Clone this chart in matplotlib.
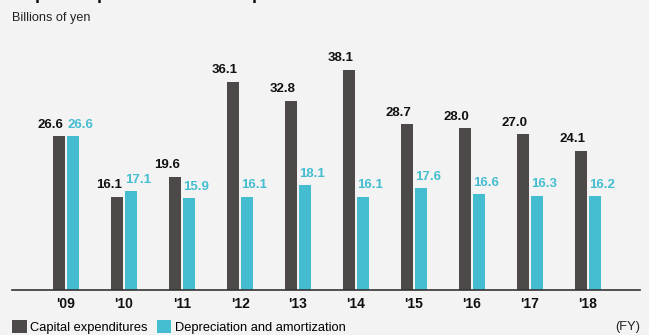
import matplotlib.pyplot as plt
import numpy as np

plt.rcParams['font.family'] = ['Liberation Sans', 'DejaVu Sans']

years = ["'09", "'10", "'11", "'12", "'13", "'14", "'15", "'16", "'17", "'18"]
capex = [26.6, 16.1, 19.6, 36.1, 32.8, 38.1, 28.7, 28.0, 27.0, 24.1]
depreciation = [26.6, 17.1, 15.9, 16.1, 18.1, 16.1, 17.6, 16.6, 16.3, 16.2]

DARK = '#4d4948'
CYAN = '#45bdd0'
BG = '#f3f3f3'

fig = plt.figure(figsize=(6.49, 3.35), dpi=100, facecolor=BG)
ax = fig.add_axes([12 / 649, 45 / 335, 628 / 649, 231 / 335], facecolor=BG)

x = np.arange(len(years))
w = 12 / 58
off = 7 / 58
ax.bar(x - off, capex, w, color=DARK, label='Capital expenditures')
ax.bar(x + off, depreciation, w, color=CYAN, label='Depreciation and amortization')

for i in range(len(years)):
    ax.annotate(f'{capex[i]:.1f}', (x[i] - 2.5 / 58, capex[i]), xytext=(0, 4),
                textcoords='offset points', ha='right', va='bottom',
                fontsize=9.5, fontweight='bold', color='#111111')
    ax.annotate(f'{depreciation[i]:.1f}', (x[i] + 1.5 / 58, depreciation[i]), xytext=(0, 4),
                textcoords='offset points', ha='left', va='bottom',
                fontsize=9.5, fontweight='bold', color=CYAN)

ax.set_xlim(-54 / 58, 574 / 58)
ax.set_ylim(0, 40)
ax.set_xticks(x)
ax.set_xticklabels(years, fontsize=10, fontweight='bold', color='#111111')
ax.tick_params(axis='x', length=0, pad=5)
ax.set_yticks([])
for s in ['top', 'right', 'left']:
    ax.spines[s].set_visible(False)
ax.spines['bottom'].set_color('#333333')
ax.spines['bottom'].set_linewidth(1.2)

fig.text(12 / 649, 1 - 18 / 335, 'Billions of yen', fontsize=9.1, color='#222222', va='center')
# heading sits just above the canvas, only its descenders show
fig.text(12 / 649, 1 + 1 / 335, 'Capital expenditures and depreciation and amortization',
         fontsize=13, fontweight='bold', color='#111111', va='baseline')

ax.legend(loc='center left', bbox_to_anchor=(12 / 649, 8 / 335), bbox_transform=fig.transFigure,
          ncol=2, frameon=False, fontsize=9.3, handlelength=1.15, handleheight=1.15,
          handletextpad=0.25, columnspacing=0.7, borderpad=0, borderaxespad=0)
fig.text(640 / 649, 8 / 335, '(FY)', fontsize=9.3, color='#222222', ha='right', va='center')

fig.savefig('out.png', dpi=100, facecolor=BG)
